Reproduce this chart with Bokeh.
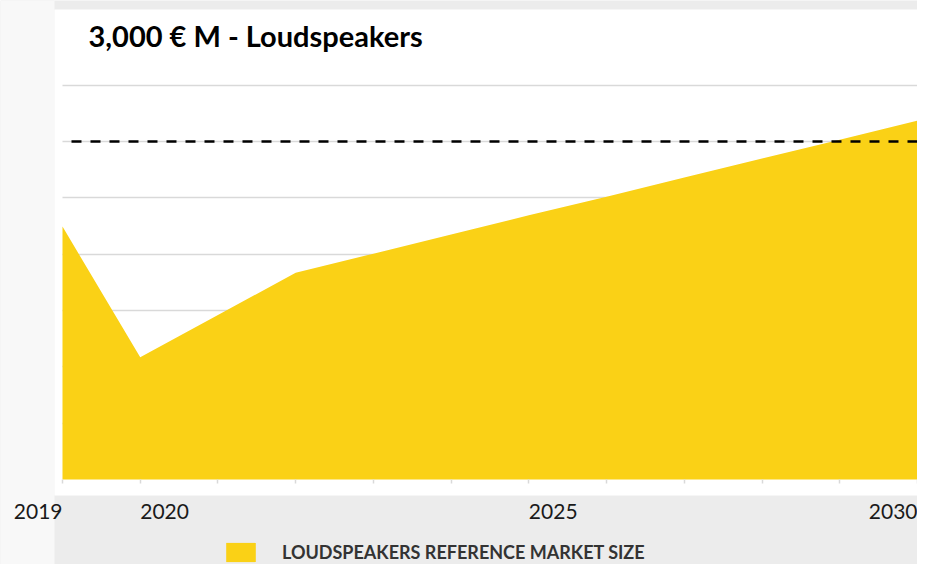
from bokeh.plotting import figure
from bokeh.models import Range1d, Grid, FixedTicker, LinearAxis, Label, Legend, LegendItem, BoxAnnotation
from bokeh.embed import file_html
from bokeh.resources import INLINE

# ---- data ----
years = [2019, 2020, 2021, 2022, 2023, 2024, 2025, 2026, 2027, 2028, 2029, 2030]
market_size = [2245, 1085, 1460, 1835, 2005, 2175, 2345, 2510, 2680, 2850, 3015, 3185]
target = 3000
grid_values = [500, 1000, 1500, 2000, 2500, 3000, 3500]
labels_right = [2019, 2030]
labels_left = [2020, 2025]
title_text = "3,000 € M - Loudspeakers"
legend_text = "LOUDSPEAKERS REFERENCE MARKET SIZE"

YELLOW = "#FAD116"

p = figure(width=917, height=564, output_backend="svg", toolbar_location=None,
           x_range=Range1d(2018.2024, 2030), y_range=Range1d(-754.5, 4252),
           x_axis_type=None, y_axis_type=None,
           min_border_left=0, min_border_right=0, min_border_top=0, min_border_bottom=0)
p.background_fill_color = "#ececec"
p.border_fill_color = "#ececec"
p.outline_line_color = None

# light left strip and white chart panel (decoration)
p.add_layout(BoxAnnotation(right=2018.897, fill_color="#f8f8f8", fill_alpha=1,
                           line_color=None, level="underlay"))
p.add_layout(BoxAnnotation(left=2018.897, bottom=-142, top=4172, fill_color="white",
                           fill_alpha=1, line_color=None, level="underlay"))

ygrid = Grid(dimension=1, ticker=FixedTicker(ticks=grid_values),
             grid_line_color="#d9d9d9", grid_line_width=1.5)
ygrid.cross_bounds = (years[0], years[-1])
p.add_layout(ygrid)

area = p.varea(x=years, y1=0, y2=market_size, fill_color=YELLOW, fill_alpha=1)

p.line(x=[years[0], years[-1]], y=[target, target], line_color="black",
       line_width=2.5, line_dash="10 9", line_dash_offset=10)

tick_axis = LinearAxis(ticker=FixedTicker(ticks=years), fixed_location=0,
                       axis_line_color=None, major_tick_line_color="#d9d9d9",
                       major_tick_line_width=1.5,
                       major_tick_in=0, major_tick_out=4, minor_tick_line_color=None,
                       major_label_text_color=None)
p.add_layout(tick_axis, "below")

for ticks, orient in ((labels_right, 1e-6), (labels_left, -1e-6)):
    ax = LinearAxis(ticker=FixedTicker(ticks=ticks), fixed_location=0,
                    axis_line_color=None, major_tick_line_color=None,
                    major_tick_in=0, major_tick_out=0, minor_tick_line_color=None,
                    major_label_standoff=32, major_label_text_font="Lato",
                    major_label_text_font_size="21px", major_label_text_color="#1a1a1a",
                    major_label_orientation=orient)
    p.add_layout(ax, "below")

p.add_layout(Label(x=88, y=529, x_units="screen", y_units="screen", text=title_text,
                   text_font="Lato", text_font_style="bold", text_font_size="29px",
                   text_color="black", text_baseline="alphabetic"))

legend = Legend(items=[LegendItem(label=legend_text, renderers=[area])],
                location=(222, 0), glyph_width=37, glyph_height=24, label_standoff=23,
                padding=0, margin=0, border_line_color=None, background_fill_alpha=0,
                label_text_font="Lato", label_text_font_style="bold",
                label_text_font_size="18px", label_text_color="#333333", label_height=24)
p.add_layout(legend)

open("out.html", "w").write(file_html(p, INLINE))
